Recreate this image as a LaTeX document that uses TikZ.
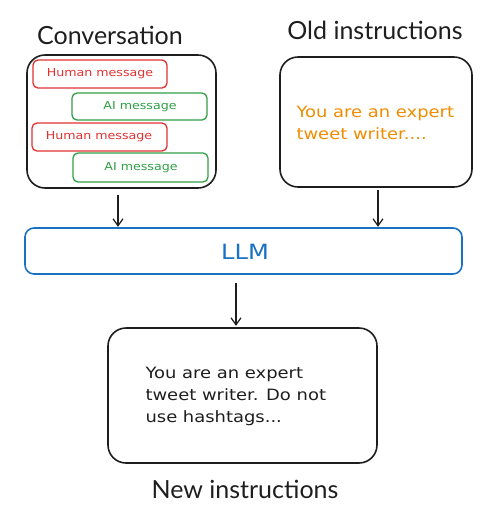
\documentclass[tikz,border=0pt]{standalone}
\usepackage{fontspec}
\setmainfont{Lato}
\newfontfamily\hand[FakeStretch=1.15]{DejaVu Sans}
\usetikzlibrary{arrows.meta}
\definecolor{ink}{HTML}{1E1E1E}
\definecolor{hred}{HTML}{E03131}
\definecolor{hgreen}{HTML}{2F9E44}
\definecolor{horange}{HTML}{F08C00}
\definecolor{hblue}{HTML}{1971C2}
\tikzset{
  bigbox/.style={draw=ink, line width=1.6pt, rounded corners=18pt},
  msg/.style={draw=#1, line width=1.3pt, rounded corners=5pt},
  title/.style={font=\fontsize{25}{28}\selectfont, text=ink},
  handtxt/.style={font=\hand\fontsize{15.6}{22}\selectfont, align=left, anchor=west},
  msgtxt/.style={font=\hand\fontsize{11}{13}\selectfont},
  arr/.style={draw=ink, line width=1.2pt, -{Straight Barb[length=7pt,width=10pt]}},
}
\begin{document}
\begin{tikzpicture}[x=1pt,y=-1pt]
\useasboundingbox (0,0) rectangle (493,515);
% Conversation
\node[title] (tconv) at (110,35) {Conversation};
\draw[bigbox] (27,55) rectangle (216,188);
\node (conv) at (121.5,121.5) [minimum width=189pt, minimum height=133pt] {};
\draw[msg=hred] (33,60) rectangle (167,88);
\node[msgtxt, text=hred] (h1) at (100,74) {Human message};
\draw[msg=hgreen] (72,93) rectangle (207,120);
\node[msgtxt, text=hgreen] (a1) at (140,106.5) {AI message};
\draw[msg=hred] (32,123) rectangle (167,151);
\node[msgtxt, text=hred] (h2) at (99,137) {Human message};
\draw[msg=hgreen] (73,153) rectangle (208,182);
\node[msgtxt, text=hgreen] (a2) at (141,167.5) {AI message};
% Old instructions
\node[title] (told) at (375,30) {Old instructions};
\draw[bigbox] (280,57) rectangle (472,187);
\node (old) at (376,122) [minimum width=192pt, minimum height=130pt] {};
\node[handtxt, text=horange] (oldtxt) at (293,123) {You are an expert\\tweet writer....};
% LLM
\draw[draw=hblue, line width=1.6pt, rounded corners=9pt] (25,228) rectangle (462,274);
\node (llm) at (243.5,251) [minimum width=437pt, minimum height=46pt] {};
\node[font=\hand\fontsize{21}{24}\selectfont, text=hblue] (llmtxt) at (245,252) {LLM};
% New
\draw[bigbox] (108,328) rectangle (377,463);
\node (new) at (242.5,395.5) [minimum width=269pt, minimum height=135pt] {};
\node[handtxt, text=ink] (newtxt) at (142,396) {You are an expert\\tweet writer. Do not\\use hashtags...};
\node[title] (tnew) at (245,489) {New instructions};
% arrows
\coordinate (c1) at (118,195);
\draw[arr] (c1) -- ([yshift=1pt]c1 |- llm.north);
\coordinate (c2) at (378,190);
\draw[arr] (c2) -- ([yshift=1pt]c2 |- llm.north);
\coordinate (c3) at (236,283);
\draw[arr] (c3) -- ([yshift=2pt]c3 |- new.north);
\end{tikzpicture}
\end{document}
